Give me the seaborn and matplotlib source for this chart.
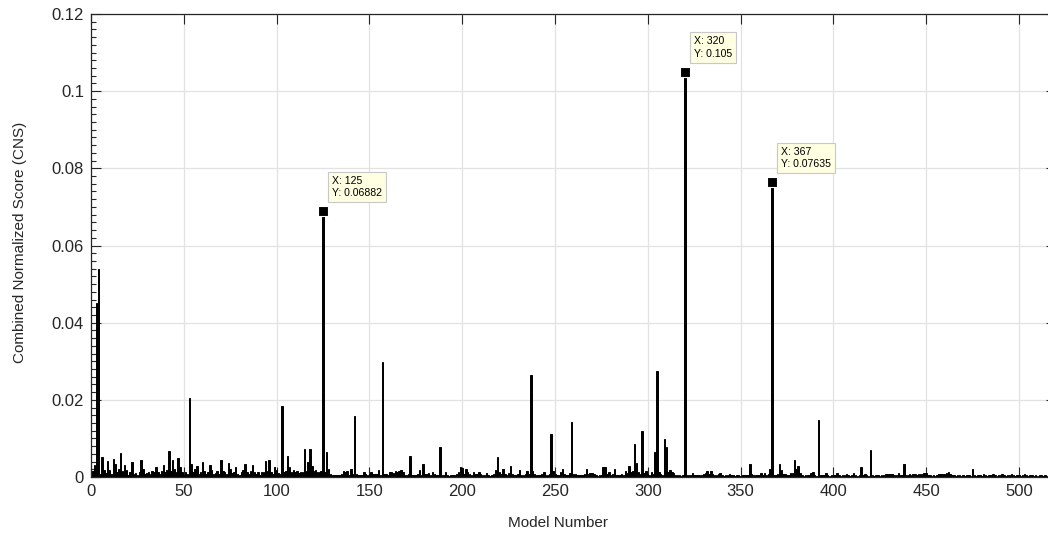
import numpy as np
import matplotlib
matplotlib.use("Agg")
import matplotlib.pyplot as plt
from matplotlib.ticker import MultipleLocator, FuncFormatter
import seaborn as sns

# ---- data ----
cns = [
    0.0015, 0.003, 0.045, 0.054, 0.0008, 0.0052, 0.0018, 0.001, 0.0042, 0.0018,
    0.0009, 0.0046, 0.0034, 0.0012, 0.002, 0.0062, 0.0015, 0.0031, 0.0018, 0.0006,
    0.0012, 0.004, 0.0008, 0.001, 0.0005, 0.0014, 0.0044, 0.0022, 0.0009, 0.0011,
    0.0012, 0.0008, 0.0015, 0.0012, 0.0027, 0.0014, 0.0008, 0.0016, 0.0031, 0.0012,
    0.0018, 0.0067, 0.0016, 0.0044, 0.002, 0.0012, 0.0048, 0.0027, 0.0012, 0.0006,
    0.0014, 0.0009, 0.0206, 0.0033, 0.0012, 0.0022, 0.0029, 0.0008, 0.0013, 0.004,
    0.0016, 0.0009, 0.0012, 0.0031, 0.0018, 0.0007, 0.0011, 0.0015, 0.0009, 0.0044,
    0.0016, 0.0012, 0.0008, 0.0035, 0.0022, 0.0011, 0.0014, 0.0027, 0.0009, 0.0006,
    0.0012, 0.0018, 0.0034, 0.0012, 0.0008, 0.0015, 0.0031, 0.0012, 0.0009, 0.0014,
    0.0006, 0.0012, 0.0012, 0.0042, 0.0016, 0.0044, 0.0012, 0.0008, 0.0027, 0.0018,
    0.0011, 0.0009, 0.0184, 0.0012, 0.0015, 0.0054, 0.0027, 0.0012, 0.0018, 0.0014,
    0.0016, 0.0011, 0.0014, 0.0012, 0.0073, 0.0015, 0.004, 0.0073, 0.0029, 0.0016,
    0.0018, 0.0014, 0.0012, 0.0016, 0.06882, 0.0012, 0.0065, 0.0022, 0.0008, 0.0006,
    0.0004, 0.0005, 0.0006, 0.0004, 0.0008, 0.0015, 0.0014, 0.0016, 0.0006, 0.0022,
    0.0008, 0.0159, 0.0008, 0.0006, 0.0004, 0.0005, 0.0012, 0.0009, 0.0006, 0.0008,
    0.0012, 0.0009, 0.0008, 0.0007, 0.0018, 0.0006, 0.0299, 0.0009, 0.0007, 0.0006,
    0.0014, 0.0012, 0.0011, 0.0016, 0.0012, 0.0015, 0.0018, 0.0012, 0.0006, 0.0004,
    0.0008, 0.0054, 0.0006, 0.0004, 0.0005, 0.0007, 0.0018, 0.0006, 0.0033, 0.0009,
    0.0008, 0.0011, 0.0006, 0.0014, 0.0008, 0.0005, 0.0004, 0.0079, 0.0006, 0.0005,
    0.0014, 0.0004, 0.0003, 0.0005, 0.0006, 0.0004, 0.0008, 0.0012, 0.0027, 0.0024,
    0.0009, 0.002, 0.0012, 0.0008, 0.0006, 0.0014, 0.0009, 0.0008, 0.0012, 0.0008,
    0.0006, 0.0005, 0.0011, 0.0004, 0.0003, 0.0006, 0.0008, 0.0018, 0.0053, 0.0012,
    0.0008, 0.002, 0.0009, 0.0006, 0.0011, 0.0029, 0.0008, 0.0005, 0.0004, 0.0008,
    0.0018, 0.0006, 0.0005, 0.0009, 0.0015, 0.0008, 0.0264, 0.0016, 0.0009, 0.0006,
    0.0005, 0.0004, 0.0008, 0.0014, 0.0006, 0.0005, 0.0009, 0.0111, 0.0016, 0.0008,
    0.0006, 0.0005, 0.0012, 0.0021, 0.0008, 0.0006, 0.0005, 0.0011, 0.0143, 0.0009,
    0.0008, 0.0006, 0.0005, 0.0004, 0.0006, 0.0008, 0.0022, 0.0008, 0.0011, 0.001,
    0.0009, 0.0004, 0.0003, 0.0004, 0.0006, 0.0027, 0.0025, 0.0008, 0.0014, 0.0006,
    0.0008, 0.0022, 0.0006, 0.0005, 0.0004, 0.0008, 0.0006, 0.0015, 0.0011, 0.0029,
    0.0012, 0.0016, 0.0086, 0.0035, 0.0012, 0.0009, 0.012, 0.0011, 0.0015, 0.0008,
    0.0006, 0.0014, 0.0008, 0.0065, 0.0275, 0.0012, 0.0008, 0.0006, 0.0098, 0.0079,
    0.0012, 0.0018, 0.0014, 0.001, 0.0006, 0.0005, 0.0004, 0.0003, 0.0004, 0.105,
    0.0004, 0.0006, 0.0005, 0.001, 0.0006, 0.0004, 0.0005, 0.0004, 0.0006, 0.0008,
    0.0011, 0.0016, 0.0008, 0.0016, 0.0009, 0.0006, 0.0005, 0.0008, 0.0011, 0.0004,
    0.0003, 0.0005, 0.0004, 0.0009, 0.0006, 0.0004, 0.0003, 0.0005, 0.0004, 0.0003,
    0.0006, 0.0004, 0.0005, 0.0006, 0.0034, 0.0008, 0.0005, 0.0004, 0.0006, 0.0005,
    0.0011, 0.0006, 0.0011, 0.0004, 0.0008, 0.0022, 0.07635, 0.0006, 0.0005, 0.0008,
    0.0033, 0.0018, 0.0008, 0.0008, 0.0004, 0.0006, 0.001, 0.0011, 0.0044, 0.0022,
    0.0029, 0.0011, 0.0004, 0.0003, 0.0005, 0.0004, 0.0006, 0.0011, 0.0012, 0.0004,
    0.0003, 0.0148, 0.0004, 0.0006, 0.0005, 0.001, 0.0004, 0.0003, 0.0005, 0.0004,
    0.0006, 0.001, 0.0004, 0.0003, 0.0004, 0.0005, 0.0008, 0.0004, 0.0003, 0.0005,
    0.0011, 0.0004, 0.0003, 0.0005, 0.0025, 0.0004, 0.0008, 0.0005, 0.0003, 0.007,
    0.0004, 0.0003, 0.0005, 0.0004, 0.0003, 0.0004, 0.0006, 0.0008, 0.0008, 0.0008,
    0.0009, 0.0008, 0.0005, 0.0006, 0.0011, 0.0004, 0.0005, 0.0033, 0.0004, 0.0005,
    0.0008, 0.0004, 0.0008, 0.0009, 0.0006, 0.0008, 0.0009, 0.0008, 0.0011, 0.0011,
    0.0006, 0.0004, 0.0003, 0.0005, 0.0003, 0.0004, 0.0008, 0.0008, 0.0007, 0.0009,
    0.0011, 0.0012, 0.0008, 0.0005, 0.0004, 0.0003, 0.0004, 0.0005, 0.0003, 0.0004,
    0.0003, 0.0005, 0.0004, 0.0003, 0.0022, 0.0004, 0.0003, 0.0005, 0.0004, 0.0003,
    0.0008, 0.0004, 0.0003, 0.0004, 0.0005, 0.0008, 0.0004, 0.0003, 0.0004, 0.0005,
    0.0009, 0.0004, 0.0003, 0.0004, 0.0005, 0.0008, 0.0004, 0.0003, 0.0005, 0.0004,
    0.0003, 0.0005, 0.0008, 0.0004, 0.0003, 0.0004, 0.0005, 0.0003, 0.0004, 0.0003,
    0.0005, 0.0004, 0.0003, 0.0005, 0.0003,
]
models = list(range(1, len(cns) + 1))

tip_x = [125, 320, 367]
tip_y = [0.06882, 0.105, 0.07635]

x_ticks = [0, 50, 100, 150, 200, 250, 300, 350, 400, 450, 500]
y_ticks = [0, 0.02, 0.04, 0.06, 0.08, 0.1, 0.12]

# ---- style ----
sns.set_style("white")
plt.rcParams["font.family"] = ["Liberation Sans", "DejaVu Sans"]
txt = "#262626"

fig = plt.figure(figsize=(10.48, 5.38), dpi=100)
ax = fig.add_axes([91 / 1048, 61 / 538, 965 / 1048, 463 / 538])

sns.barplot(x=models, y=cns, native_scale=True, color="black", saturation=1,
            width=0.8, errorbar=None, edgecolor="black", linewidth=0.7, ax=ax)

ax.set_xlim(0, 520)
ax.set_ylim(0, 0.12)
ax.set_xticks(x_ticks)
ax.set_yticks(y_ticks)
ax.yaxis.set_minor_locator(MultipleLocator(0.002))
ax.yaxis.set_major_formatter(FuncFormatter(lambda v, p: f"{v:g}"))
ax.xaxis.set_major_formatter(FuncFormatter(lambda v, p: f"{v:g}"))

ax.grid(True, which="major", color="#e2e2e2", linewidth=0.9)
ax.set_axisbelow(True)
for s in ax.spines.values():
    s.set_visible(True)
    s.set_color(txt)
    s.set_linewidth(0.9)

ax.tick_params(which="major", direction="in", length=7, width=0.8, color=txt,
               top=True, right=True, bottom=True, left=True,
               labelsize=12, labelcolor=txt, pad=5)
ax.tick_params(which="minor", axis="y", direction="in", length=3.6, width=0.8,
               color=txt, left=True, right=False)

ax.set_xlabel("Model Number", fontsize=11, color=txt)
ax.set_ylabel("Combined Normalized Score (CNS)", fontsize=11, color=txt)
ax.xaxis.set_label_coords(0.484, -0.085)
ax.yaxis.set_label_coords(-0.066, 0.507)

# data tips
ax.plot(tip_x, tip_y, "s", color="black", mec="white", mew=0.8, ms=6.5,
        zorder=6, clip_on=False)
for xv, yv in zip(tip_x, tip_y):
    ax.annotate(f"X: {xv}\nY: {yv:g}", xy=(xv, yv), xytext=(9, 13),
                textcoords="offset pixels", ha="left", va="bottom",
                fontsize=7.6, color="black", linespacing=1.35, zorder=7,
                bbox=dict(boxstyle="square,pad=0.35", fc="#FFFFE1",
                          ec="#C8C8C8", lw=0.8))

fig.savefig("out.png", dpi=100)
